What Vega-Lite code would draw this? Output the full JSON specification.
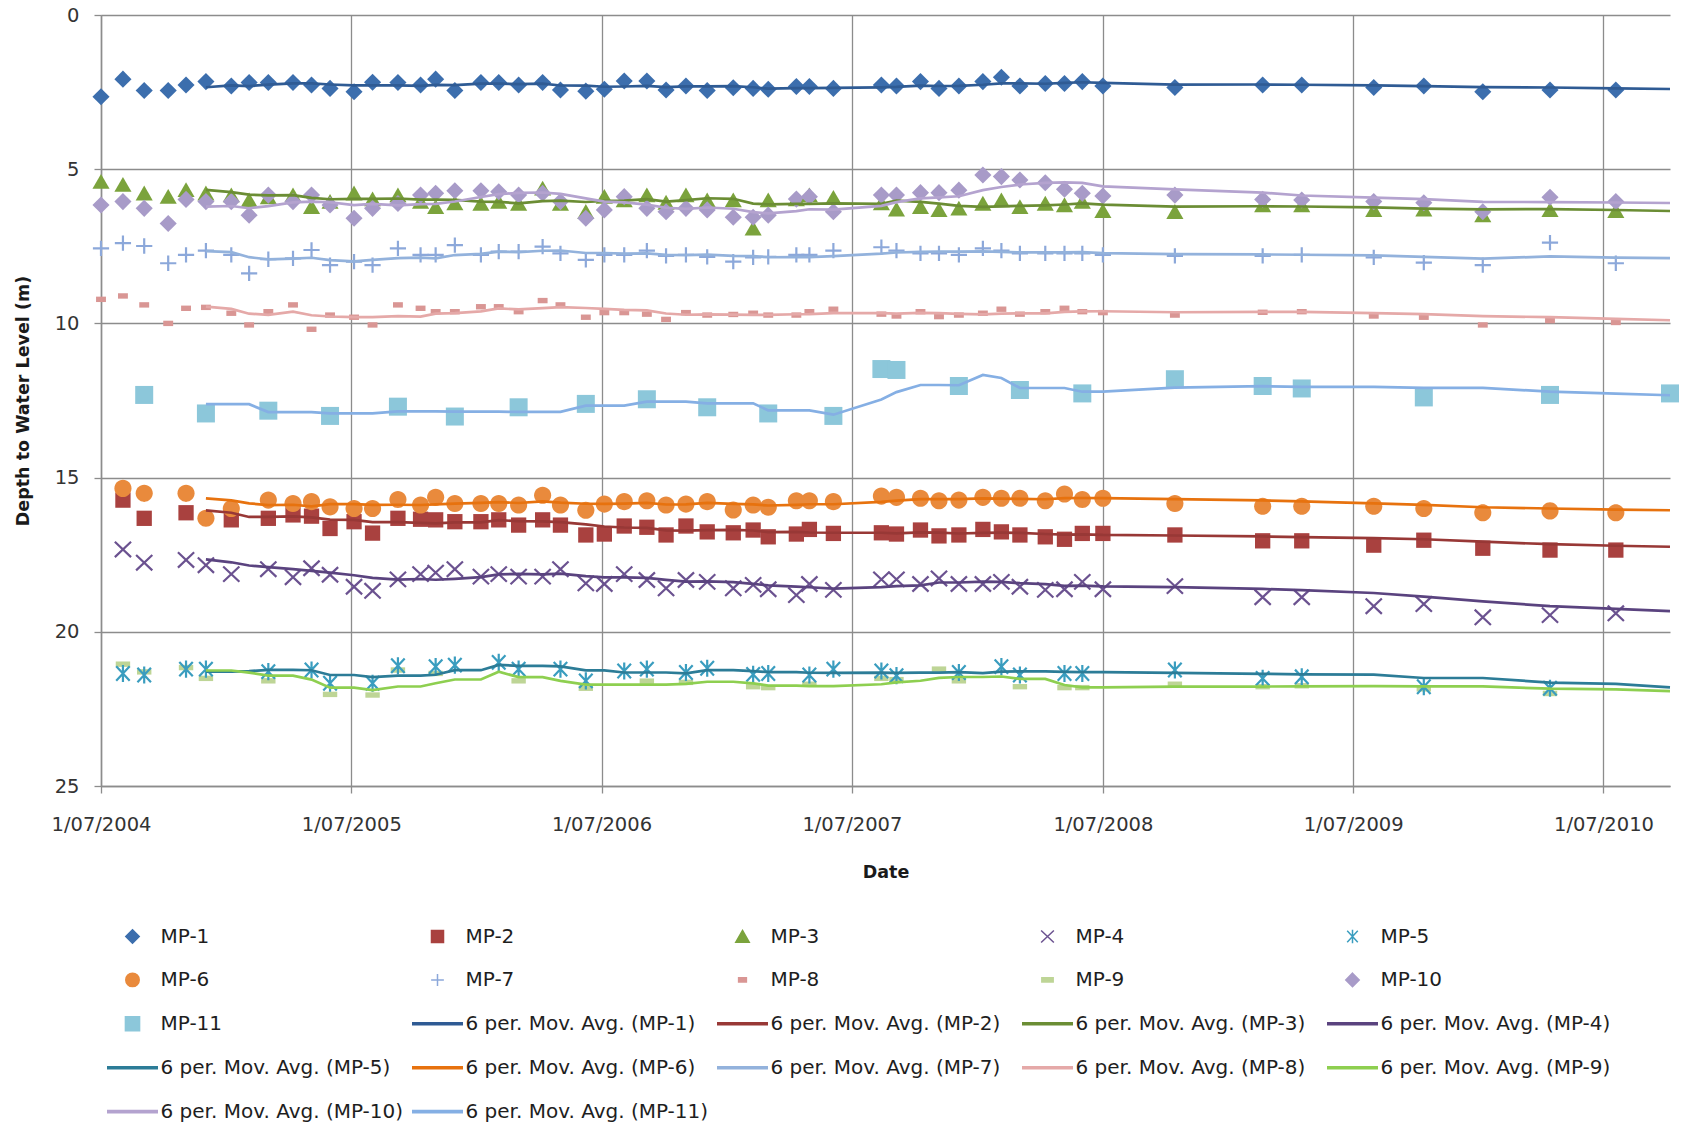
{
  "$schema": "https://vega.github.io/schema/vega-lite/v6.json",
  "width": 1569,
  "height": 771,
  "autosize": {"type": "none"},
  "padding": {"left": 101, "top": 15, "right": 16, "bottom": 340},
  "background": "white",
  "config": {
    "view": {"stroke": null},
    "font": "DejaVu Sans",
    "legend": {
      "orient": "none",
      "direction": "horizontal",
      "legendX": 5.5,
      "legendY": 911,
      "columns": 5,
      "gridAlign": "all",
      "columnPadding": 6,
      "rowPadding": 21.9,
      "symbolSize": 200,
      "symbolStrokeWidth": 1.5,
      "symbolOffset": 16,
      "labelOffset": 18,
      "labelFont": "DejaVu Sans",
      "labelFontSize": 20,
      "labelColor": "#1e1e1e",
      "labelLimit": 500,
      "padding": 0
    }
  },
  "datasets": {
    "maLabels": [
      {"series": "MP-1", "maLabel": "6 per. Mov. Avg. (MP-1)"},
      {"series": "MP-2", "maLabel": "6 per. Mov. Avg. (MP-2)"},
      {"series": "MP-3", "maLabel": "6 per. Mov. Avg. (MP-3)"},
      {"series": "MP-4", "maLabel": "6 per. Mov. Avg. (MP-4)"},
      {"series": "MP-5", "maLabel": "6 per. Mov. Avg. (MP-5)"},
      {"series": "MP-6", "maLabel": "6 per. Mov. Avg. (MP-6)"},
      {"series": "MP-7", "maLabel": "6 per. Mov. Avg. (MP-7)"},
      {"series": "MP-8", "maLabel": "6 per. Mov. Avg. (MP-8)"},
      {"series": "MP-9", "maLabel": "6 per. Mov. Avg. (MP-9)"},
      {"series": "MP-10", "maLabel": "6 per. Mov. Avg. (MP-10)"},
      {"series": "MP-11", "maLabel": "6 per. Mov. Avg. (MP-11)"}
    ]
  },
  "data": {
    "values": [
      {"date": "2004-07-01", "MP-1": 2.65, "MP-3": 5.40, "MP-7": 7.57, "MP-8": 9.22, "MP-10": 6.16},
      {"date": "2004-08-02", "MP-1": 2.08, "MP-2": 15.73, "MP-3": 5.50, "MP-4": 17.33, "MP-5": 21.35, "MP-6": 15.35, "MP-7": 7.40, "MP-8": 9.11, "MP-9": 21.05, "MP-10": 6.05},
      {"date": "2004-09-02", "MP-1": 2.45, "MP-2": 16.32, "MP-3": 5.78, "MP-4": 17.76, "MP-5": 21.40, "MP-6": 15.51, "MP-7": 7.49, "MP-8": 9.40, "MP-9": 21.30, "MP-10": 6.27, "MP-11": 12.32},
      {"date": "2004-10-07", "MP-1": 2.45, "MP-3": 5.89, "MP-7": 8.05, "MP-8": 10.00, "MP-10": 6.76},
      {"date": "2004-11-02", "MP-1": 2.27, "MP-2": 16.14, "MP-3": 5.67, "MP-4": 17.67, "MP-5": 21.21, "MP-6": 15.51, "MP-7": 7.78, "MP-8": 9.51, "MP-9": 21.16, "MP-10": 5.98},
      {"date": "2004-12-01", "MP-1": 2.16, "MP-3": 5.78, "MP-4": 17.84, "MP-5": 21.21, "MP-6": 16.32, "MP-7": 7.64, "MP-8": 9.48, "MP-9": 21.51, "MP-10": 6.05, "MP-11": 12.92},
      {"date": "2005-01-07", "MP-1": 2.30, "MP-2": 16.37, "MP-3": 5.84, "MP-4": 18.13, "MP-6": 16.00, "MP-7": 7.78, "MP-8": 9.67, "MP-10": 6.05},
      {"date": "2005-02-02", "MP-1": 2.19, "MP-3": 6.00, "MP-7": 8.38, "MP-8": 10.05, "MP-10": 6.49},
      {"date": "2005-03-02", "MP-1": 2.19, "MP-2": 16.32, "MP-3": 5.90, "MP-4": 17.97, "MP-5": 21.29, "MP-6": 15.73, "MP-7": 7.92, "MP-8": 9.62, "MP-9": 21.59, "MP-10": 5.84, "MP-11": 12.83},
      {"date": "2005-04-07", "MP-1": 2.19, "MP-2": 16.21, "MP-3": 5.84, "MP-4": 18.23, "MP-6": 15.84, "MP-7": 7.89, "MP-8": 9.40, "MP-10": 6.05},
      {"date": "2005-05-04", "MP-1": 2.27, "MP-2": 16.25, "MP-3": 6.22, "MP-4": 17.94, "MP-5": 21.24, "MP-6": 15.78, "MP-7": 7.62, "MP-8": 10.19, "MP-10": 5.84},
      {"date": "2005-05-31", "MP-1": 2.38, "MP-2": 16.65, "MP-3": 6.05, "MP-4": 18.15, "MP-5": 21.67, "MP-6": 15.95, "MP-7": 8.11, "MP-8": 9.73, "MP-9": 22.03, "MP-10": 6.16, "MP-11": 13.00},
      {"date": "2005-07-05", "MP-1": 2.49, "MP-2": 16.43, "MP-3": 5.78, "MP-4": 18.54, "MP-6": 16.00, "MP-7": 8.00, "MP-8": 9.80, "MP-10": 6.59},
      {"date": "2005-08-01", "MP-1": 2.18, "MP-2": 16.80, "MP-3": 5.97, "MP-4": 18.67, "MP-5": 21.67, "MP-6": 16.00, "MP-7": 8.11, "MP-8": 10.05, "MP-9": 22.05, "MP-10": 6.27},
      {"date": "2005-09-07", "MP-1": 2.19, "MP-2": 16.32, "MP-3": 5.84, "MP-4": 18.30, "MP-5": 21.10, "MP-6": 15.71, "MP-7": 7.57, "MP-8": 9.40, "MP-9": 21.24, "MP-10": 6.11, "MP-11": 12.70},
      {"date": "2005-10-10", "MP-1": 2.27, "MP-2": 16.35, "MP-3": 6.05, "MP-4": 18.13, "MP-6": 15.89, "MP-7": 7.78, "MP-8": 9.51, "MP-10": 5.84},
      {"date": "2005-11-01", "MP-1": 2.08, "MP-2": 16.37, "MP-3": 6.22, "MP-4": 18.08, "MP-5": 21.13, "MP-6": 15.64, "MP-7": 7.78, "MP-8": 9.62, "MP-9": 21.35, "MP-10": 5.78},
      {"date": "2005-11-29", "MP-1": 2.45, "MP-2": 16.43, "MP-3": 6.10, "MP-4": 17.97, "MP-5": 21.08, "MP-6": 15.84, "MP-7": 7.46, "MP-8": 9.62, "MP-10": 5.70, "MP-11": 13.02},
      {"date": "2006-01-06", "MP-1": 2.19, "MP-2": 16.43, "MP-3": 6.11, "MP-4": 18.21, "MP-6": 15.84, "MP-7": 7.78, "MP-8": 9.46, "MP-10": 5.70},
      {"date": "2006-02-01", "MP-1": 2.19, "MP-2": 16.37, "MP-3": 6.05, "MP-4": 18.13, "MP-5": 20.99, "MP-6": 15.84, "MP-7": 7.67, "MP-8": 9.46, "MP-10": 5.73},
      {"date": "2006-03-02", "MP-1": 2.27, "MP-2": 16.54, "MP-3": 6.11, "MP-4": 18.21, "MP-5": 21.21, "MP-6": 15.89, "MP-7": 7.67, "MP-8": 9.62, "MP-9": 21.59, "MP-10": 5.84, "MP-11": 12.72},
      {"date": "2006-04-06", "MP-1": 2.19, "MP-2": 16.37, "MP-3": 5.62, "MP-4": 18.21, "MP-6": 15.57, "MP-7": 7.51, "MP-8": 9.26, "MP-10": 5.78},
      {"date": "2006-05-02", "MP-1": 2.43, "MP-2": 16.54, "MP-3": 6.11, "MP-4": 17.97, "MP-5": 21.21, "MP-6": 15.89, "MP-7": 7.73, "MP-8": 9.40, "MP-10": 6.05},
      {"date": "2006-06-08", "MP-1": 2.47, "MP-2": 16.86, "MP-3": 6.38, "MP-4": 18.43, "MP-5": 21.59, "MP-6": 16.06, "MP-7": 7.94, "MP-8": 9.80, "MP-9": 21.83, "MP-10": 6.59, "MP-11": 12.61},
      {"date": "2006-07-05", "MP-1": 2.41, "MP-2": 16.83, "MP-3": 5.89, "MP-4": 18.45, "MP-6": 15.86, "MP-7": 7.78, "MP-8": 9.65, "MP-10": 6.32},
      {"date": "2006-08-03", "MP-1": 2.14, "MP-2": 16.57, "MP-3": 6.00, "MP-4": 18.13, "MP-5": 21.27, "MP-6": 15.78, "MP-7": 7.78, "MP-8": 9.65, "MP-10": 5.89},
      {"date": "2006-09-05", "MP-1": 2.14, "MP-2": 16.61, "MP-3": 5.84, "MP-4": 18.32, "MP-5": 21.21, "MP-6": 15.75, "MP-7": 7.64, "MP-8": 9.70, "MP-9": 21.60, "MP-10": 6.27, "MP-11": 12.46},
      {"date": "2006-10-03", "MP-1": 2.43, "MP-2": 16.86, "MP-3": 6.08, "MP-4": 18.59, "MP-6": 15.89, "MP-7": 7.81, "MP-8": 9.87, "MP-10": 6.38},
      {"date": "2006-11-01", "MP-1": 2.30, "MP-2": 16.57, "MP-3": 5.84, "MP-4": 18.32, "MP-5": 21.32, "MP-6": 15.86, "MP-7": 7.78, "MP-8": 9.65, "MP-9": 21.64, "MP-10": 6.27},
      {"date": "2006-12-02", "MP-1": 2.45, "MP-2": 16.76, "MP-3": 6.00, "MP-4": 18.38, "MP-5": 21.18, "MP-6": 15.78, "MP-7": 7.84, "MP-8": 9.73, "MP-10": 6.32, "MP-11": 12.72},
      {"date": "2007-01-09", "MP-1": 2.36, "MP-2": 16.79, "MP-3": 6.00, "MP-4": 18.59, "MP-6": 16.05, "MP-7": 8.00, "MP-8": 9.71, "MP-10": 6.56},
      {"date": "2007-02-07", "MP-1": 2.38, "MP-2": 16.70, "MP-3": 6.92, "MP-4": 18.48, "MP-5": 21.38, "MP-6": 15.89, "MP-7": 7.86, "MP-8": 9.67, "MP-9": 21.78, "MP-10": 6.56},
      {"date": "2007-03-01", "MP-1": 2.41, "MP-2": 16.92, "MP-3": 6.00, "MP-4": 18.62, "MP-5": 21.35, "MP-6": 15.96, "MP-7": 7.84, "MP-8": 9.73, "MP-9": 21.81, "MP-10": 6.49, "MP-11": 12.92},
      {"date": "2007-04-11", "MP-1": 2.32, "MP-2": 16.83, "MP-3": 5.97, "MP-4": 18.81, "MP-6": 15.75, "MP-7": 7.78, "MP-8": 9.73, "MP-10": 5.97},
      {"date": "2007-04-30", "MP-1": 2.32, "MP-2": 16.68, "MP-3": 5.84, "MP-4": 18.45, "MP-5": 21.40, "MP-6": 15.75, "MP-7": 7.78, "MP-8": 9.62, "MP-9": 21.70, "MP-10": 5.89},
      {"date": "2007-06-04", "MP-1": 2.38, "MP-2": 16.81, "MP-3": 5.92, "MP-4": 18.64, "MP-5": 21.21, "MP-6": 15.78, "MP-7": 7.64, "MP-8": 9.54, "MP-10": 6.38, "MP-11": 13.00},
      {"date": "2007-08-13", "MP-1": 2.27, "MP-2": 16.79, "MP-3": 6.10, "MP-4": 18.30, "MP-5": 21.27, "MP-6": 15.60, "MP-7": 7.53, "MP-8": 9.70, "MP-9": 21.51, "MP-10": 5.84, "MP-11": 11.48},
      {"date": "2007-09-04", "MP-1": 2.30, "MP-2": 16.83, "MP-3": 6.30, "MP-4": 18.30, "MP-5": 21.42, "MP-6": 15.64, "MP-7": 7.64, "MP-8": 9.76, "MP-9": 21.55, "MP-10": 5.84, "MP-11": 11.51},
      {"date": "2007-10-09", "MP-1": 2.16, "MP-2": 16.70, "MP-3": 6.22, "MP-4": 18.45, "MP-6": 15.67, "MP-7": 7.73, "MP-8": 9.62, "MP-10": 5.76},
      {"date": "2007-11-05", "MP-1": 2.38, "MP-2": 16.89, "MP-3": 6.32, "MP-4": 18.27, "MP-6": 15.75, "MP-7": 7.73, "MP-8": 9.78, "MP-9": 21.21, "MP-10": 5.76},
      {"date": "2007-12-04", "MP-1": 2.30, "MP-2": 16.86, "MP-3": 6.27, "MP-4": 18.45, "MP-5": 21.32, "MP-6": 15.73, "MP-7": 7.78, "MP-8": 9.73, "MP-9": 21.59, "MP-10": 5.68, "MP-11": 12.03},
      {"date": "2008-01-08", "MP-1": 2.16, "MP-2": 16.68, "MP-3": 6.11, "MP-4": 18.45, "MP-6": 15.64, "MP-7": 7.57, "MP-8": 9.67, "MP-10": 5.19},
      {"date": "2008-02-04", "MP-1": 2.02, "MP-2": 16.76, "MP-3": 6.00, "MP-4": 18.38, "MP-5": 21.13, "MP-6": 15.67, "MP-7": 7.64, "MP-8": 9.54, "MP-10": 5.24},
      {"date": "2008-03-02", "MP-1": 2.30, "MP-2": 16.86, "MP-3": 6.22, "MP-4": 18.54, "MP-5": 21.40, "MP-6": 15.67, "MP-7": 7.73, "MP-8": 9.70, "MP-9": 21.78, "MP-10": 5.35, "MP-11": 12.16},
      {"date": "2008-04-08", "MP-1": 2.22, "MP-2": 16.92, "MP-3": 6.11, "MP-4": 18.64, "MP-6": 15.75, "MP-7": 7.73, "MP-8": 9.62, "MP-10": 5.44},
      {"date": "2008-05-06", "MP-1": 2.22, "MP-2": 17.00, "MP-3": 6.16, "MP-4": 18.62, "MP-5": 21.35, "MP-6": 15.53, "MP-7": 7.73, "MP-8": 9.51, "MP-9": 21.81, "MP-10": 5.65},
      {"date": "2008-06-01", "MP-1": 2.16, "MP-2": 16.81, "MP-3": 6.05, "MP-4": 18.38, "MP-5": 21.35, "MP-6": 15.71, "MP-7": 7.73, "MP-8": 9.62, "MP-9": 21.81, "MP-10": 5.78, "MP-11": 12.27},
      {"date": "2008-07-01", "MP-1": 2.30, "MP-2": 16.81, "MP-3": 6.35, "MP-4": 18.62, "MP-6": 15.67, "MP-7": 7.78, "MP-8": 9.65, "MP-10": 5.87},
      {"date": "2008-10-14", "MP-1": 2.35, "MP-2": 16.86, "MP-3": 6.38, "MP-4": 18.52, "MP-5": 21.24, "MP-6": 15.84, "MP-7": 7.81, "MP-8": 9.73, "MP-9": 21.70, "MP-10": 5.84, "MP-11": 11.81},
      {"date": "2009-02-19", "MP-1": 2.27, "MP-2": 17.05, "MP-3": 6.16, "MP-4": 18.88, "MP-5": 21.51, "MP-6": 15.93, "MP-7": 7.81, "MP-8": 9.64, "MP-9": 21.78, "MP-10": 5.98, "MP-11": 12.03},
      {"date": "2009-04-17", "MP-1": 2.27, "MP-2": 17.05, "MP-3": 6.16, "MP-4": 18.88, "MP-5": 21.46, "MP-6": 15.93, "MP-7": 7.78, "MP-8": 9.62, "MP-9": 21.75, "MP-10": 6.00, "MP-11": 12.11},
      {"date": "2009-07-31", "MP-1": 2.35, "MP-2": 17.19, "MP-3": 6.32, "MP-4": 19.17, "MP-6": 15.93, "MP-7": 7.86, "MP-8": 9.76, "MP-10": 6.05},
      {"date": "2009-10-12", "MP-1": 2.30, "MP-2": 17.03, "MP-3": 6.30, "MP-4": 19.10, "MP-5": 21.78, "MP-6": 16.00, "MP-7": 8.03, "MP-8": 9.80, "MP-9": 21.85, "MP-10": 6.09, "MP-11": 12.40},
      {"date": "2010-01-06", "MP-1": 2.49, "MP-2": 17.29, "MP-3": 6.49, "MP-4": 19.53, "MP-6": 16.14, "MP-7": 8.11, "MP-8": 10.05, "MP-10": 6.38},
      {"date": "2010-04-14", "MP-1": 2.43, "MP-2": 17.35, "MP-3": 6.32, "MP-4": 19.46, "MP-5": 21.83, "MP-6": 16.08, "MP-7": 7.38, "MP-8": 9.91, "MP-9": 22.00, "MP-10": 5.91, "MP-11": 12.32},
      {"date": "2010-07-19", "MP-1": 2.43, "MP-2": 17.35, "MP-3": 6.35, "MP-4": 19.40, "MP-6": 16.14, "MP-7": 8.05, "MP-8": 9.97, "MP-10": 6.05},
      {"date": "2010-10-06", "MP-11": 12.27}
    ]
  },
  "encoding": {
    "x": {
      "field": "date",
      "type": "temporal",
      "scale": {
        "type": "utc",
        "domain": [
          {"year": 2004, "month": 7, "date": 1, "utc": true},
          {"year": 2010, "month": 10, "date": 6, "utc": true}
        ]
      },
      "axis": {
        "values": [
          {"year": 2004, "month": 7, "date": 1, "utc": true},
          {"year": 2005, "month": 7, "date": 1, "utc": true},
          {"year": 2006, "month": 7, "date": 1, "utc": true},
          {"year": 2007, "month": 7, "date": 1, "utc": true},
          {"year": 2008, "month": 7, "date": 1, "utc": true},
          {"year": 2009, "month": 7, "date": 1, "utc": true},
          {"year": 2010, "month": 7, "date": 1, "utc": true}
        ],
        "format": "%-d/%m/%Y",
        "title": "Date",
        "grid": true,
        "gridColor": "#8c8c8c",
        "gridWidth": 1.3,
        "domainColor": "#8c8c8c",
        "domainWidth": 1.5,
        "tickColor": "#8c8c8c",
        "tickSize": 7,
        "tickWidth": 1.3,
        "labelFont": "DejaVu Sans",
        "labelFontSize": 19.5,
        "labelColor": "#333333",
        "labelPadding": 22,
        "labelFlush": false,
        "labelOverlap": false,
        "titleFont": "DejaVu Sans",
        "titleFontSize": 17.5,
        "titleFontWeight": "bold",
        "titleColor": "#1a1a1a",
        "titlePadding": 30
      }
    }
  },
  "layer": [
    {
      "transform": [
        {"fold": ["MP-1", "MP-2", "MP-3", "MP-4", "MP-5", "MP-6", "MP-7", "MP-8", "MP-9", "MP-10", "MP-11"], "as": ["series", "depth"]},
        {"filter": {"field": "depth", "valid": true}},
        {"filter": {"not": {"field": "series", "oneOf": ["MP-4", "MP-5", "MP-7"]}}}
      ],
      "mark": {"type": "point", "filled": true, "size": 324, "opacity": 1},
      "encoding": {
        "y": {
          "field": "depth",
          "type": "quantitative",
          "scale": {"domain": [0, 25], "reverse": true, "nice": false, "zero": false},
          "axis": {
            "values": [0, 5, 10, 15, 20, 25],
            "title": "Depth to Water Level (m)",
            "grid": true,
            "gridColor": "#8c8c8c",
            "gridWidth": 1.3,
            "domainColor": "#8c8c8c",
            "domainWidth": 1.5,
            "tickColor": "#8c8c8c",
            "tickSize": 7,
            "tickWidth": 1.3,
            "labelFont": "DejaVu Sans",
            "labelFontSize": 19.5,
            "labelColor": "#333333",
            "labelPadding": 15,
            "titleFont": "DejaVu Sans",
            "titleFontSize": 17.5,
            "titleFontWeight": "bold",
            "titleColor": "#1a1a1a",
            "titlePadding": 22
          }
        },
        "color": {
          "field": "series",
          "type": "nominal",
          "scale": {
            "domain": ["MP-1", "MP-2", "MP-3", "MP-4", "MP-5", "MP-6", "MP-7", "MP-8", "MP-9", "MP-10", "MP-11", "6 per. Mov. Avg. (MP-1)", "6 per. Mov. Avg. (MP-2)", "6 per. Mov. Avg. (MP-3)", "6 per. Mov. Avg. (MP-4)", "6 per. Mov. Avg. (MP-5)", "6 per. Mov. Avg. (MP-6)", "6 per. Mov. Avg. (MP-7)", "6 per. Mov. Avg. (MP-8)", "6 per. Mov. Avg. (MP-9)", "6 per. Mov. Avg. (MP-10)", "6 per. Mov. Avg. (MP-11)"],
            "range": ["#3C6EAD", "#A9413F", "#7BA33C", "#6B5290", "#3A9DBF", "#E98A3C", "#8CA8DA", "#D99694", "#BED596", "#A89BC8", "#8CC7DA", "#2F5B94", "#983836", "#6B8D34", "#5A437F", "#2C7C97", "#E7720E", "#93B2DC", "#E5A9A8", "#8ECF50", "#B4A3CF", "#85AFE4"]
          },
          "legend": {
            "title": null,
            "encode": {
              "symbols": {
                "update": {
                  "fill": {"scale": "color", "field": "value"},
                  "stroke": {"scale": "color", "field": "value"}
                }
              }
            }
          }
        },
        "shape": {
          "field": "series",
          "type": "nominal",
          "scale": {
            "domain": ["MP-1", "MP-2", "MP-3", "MP-4", "MP-5", "MP-6", "MP-7", "MP-8", "MP-9", "MP-10", "MP-11", "6 per. Mov. Avg. (MP-1)", "6 per. Mov. Avg. (MP-2)", "6 per. Mov. Avg. (MP-3)", "6 per. Mov. Avg. (MP-4)", "6 per. Mov. Avg. (MP-5)", "6 per. Mov. Avg. (MP-6)", "6 per. Mov. Avg. (MP-7)", "6 per. Mov. Avg. (MP-8)", "6 per. Mov. Avg. (MP-9)", "6 per. Mov. Avg. (MP-10)", "6 per. Mov. Avg. (MP-11)"],
            "range": [
              "M0,-0.95L0.95,0L0,0.95L-0.95,0Z",
              "M-0.85,-0.85H0.85V0.85H-0.85Z",
              "M0,-0.85L0.95,0.8L-0.95,0.8Z",
              "M-0.9,-0.85L0.9,0.85M-0.9,0.85L0.9,-0.85",
              "M-0.75,-0.8L0.75,0.8M-0.75,0.8L0.75,-0.8M0,-0.95V0.95",
              "M0.95,0A0.95,0.95 0 1,1 -0.95,0A0.95,0.95 0 1,1 0.95,0Z",
              "M-0.9,0H0.9M0,-0.85V0.85",
              "M-0.55,-0.3H0.55V0.3H-0.55Z",
              "M-0.8,-0.3H0.8V0.3H-0.8Z",
              "M0,-0.95L0.95,0L0,0.95L-0.95,0Z",
              "M-1,-1H1V1H-1Z",
              "M-3.5,-0.15H3.5V0.15H-3.5Z",
              "M-3.5,-0.15H3.5V0.15H-3.5Z",
              "M-3.5,-0.15H3.5V0.15H-3.5Z",
              "M-3.5,-0.15H3.5V0.15H-3.5Z",
              "M-3.5,-0.15H3.5V0.15H-3.5Z",
              "M-3.5,-0.15H3.5V0.15H-3.5Z",
              "M-3.5,-0.15H3.5V0.15H-3.5Z",
              "M-3.5,-0.15H3.5V0.15H-3.5Z",
              "M-3.5,-0.15H3.5V0.15H-3.5Z",
              "M-3.5,-0.15H3.5V0.15H-3.5Z",
              "M-3.5,-0.15H3.5V0.15H-3.5Z"
            ]
          },
          "legend": {
            "title": null,
            "encode": {
              "symbols": {
                "update": {
                  "fill": {"scale": "color", "field": "value"},
                  "stroke": {"scale": "color", "field": "value"}
                }
              }
            }
          }
        }
      }
    },
    {
      "transform": [
        {"fold": ["MP-1", "MP-2", "MP-3", "MP-4", "MP-5", "MP-6", "MP-7", "MP-8", "MP-9", "MP-10", "MP-11"], "as": ["series", "depth"]},
        {"filter": {"field": "depth", "valid": true}},
        {"filter": {"field": "series", "oneOf": ["MP-4", "MP-5", "MP-7"]}}
      ],
      "mark": {"type": "point", "filled": false, "size": 324, "opacity": 1, "strokeWidth": 2.2},
      "encoding": {
        "y": {"field": "depth", "type": "quantitative", "title": "Depth to Water Level (m)"},
        "color": {"field": "series", "type": "nominal"},
        "shape": {"field": "series", "type": "nominal"}
      }
    },
    {
      "transform": [
        {"fold": ["MP-1", "MP-2", "MP-3", "MP-4", "MP-5", "MP-6", "MP-7", "MP-8", "MP-9", "MP-10", "MP-11"], "as": ["series", "depth"]},
        {"window": [{"op": "mean", "field": "depth", "as": "ma"}, {"op": "row_number", "as": "rn"}], "frame": [-5, 0], "groupby": ["series"], "sort": [{"field": "date", "order": "ascending"}]},
        {"filter": {"field": "rn", "gte": 6}},
        {"filter": {"field": "ma", "valid": true}},
        {"lookup": "series", "from": {"data": {"name": "maLabels"}, "key": "series", "fields": ["maLabel"]}}
      ],
      "mark": {"type": "line", "strokeWidth": 2.7},
      "encoding": {
        "y": {"field": "ma", "type": "quantitative", "title": "Depth to Water Level (m)"},
        "color": {"field": "maLabel", "type": "nominal"}
      }
    }
  ]
}
